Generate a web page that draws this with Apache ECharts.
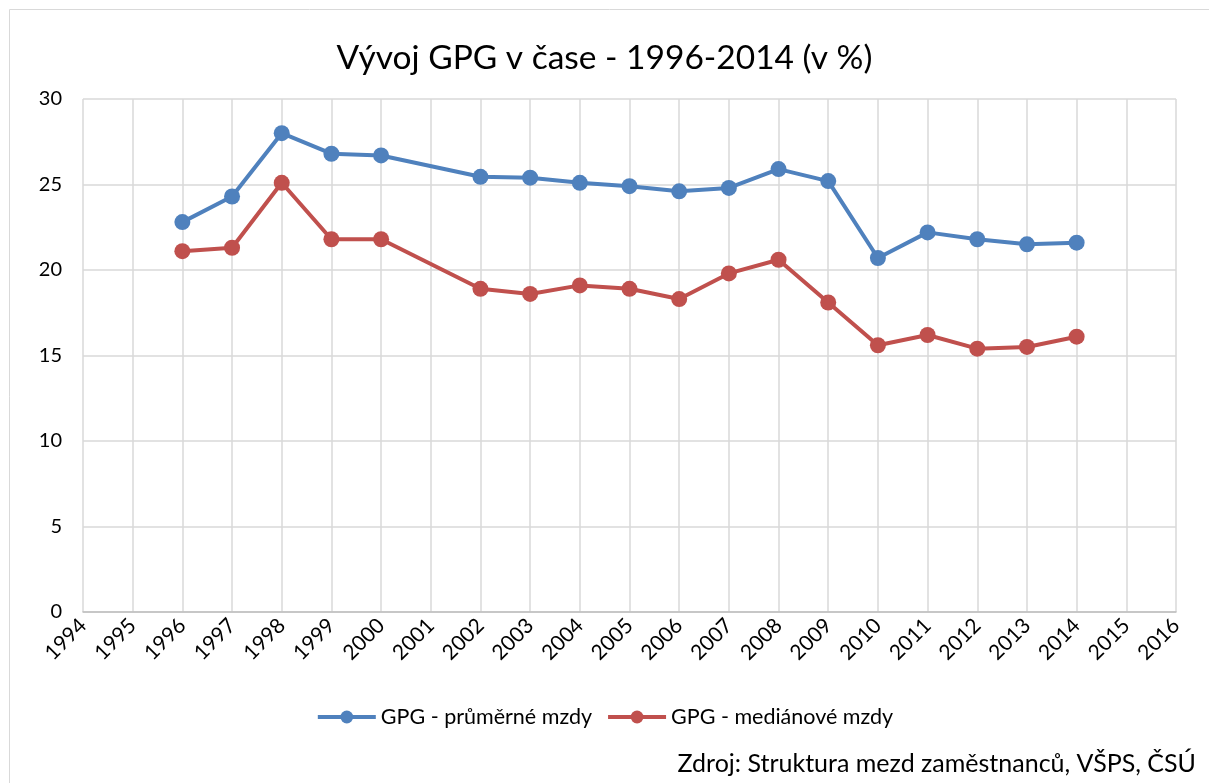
<!DOCTYPE html>
<html>
<head>
<meta charset="utf-8">
<script src="https://cdn.jsdelivr.net/npm/echarts@6/dist/echarts.min.js"></script>
<style>
  html, body { margin: 0; padding: 0; background: #fff; }
  #chart { width: 1209px; height: 783px; }
</style>
</head>
<body>
<div id="chart"></div>
<script>
// roky a hodnoty GPG (v %)
var years = [1996, 1997, 1998, 1999, 2000, 2002, 2003, 2004, 2005, 2006, 2007, 2008, 2009, 2010, 2011, 2012, 2013, 2014];
var prumerne = [22.8, 24.3, 28.0, 26.8, 26.7, 25.45, 25.4, 25.1, 24.9, 24.6, 24.8, 25.9, 25.2, 20.7, 22.2, 21.8, 21.5, 21.6];
var medianove = [21.1, 21.3, 25.1, 21.8, 21.8, 18.9, 18.6, 19.1, 18.9, 18.3, 19.8, 20.6, 18.1, 15.6, 16.2, 15.4, 15.5, 16.1];

var font = 'Lato, "Open Sans", sans-serif';

function pairs(vals) {
  return years.map(function (y, i) { return [y, vals[i]]; });
}

var chart = echarts.init(document.getElementById('chart'));
var option = {
  animation: false,
  textStyle: { fontFamily: font },
  title: {
    text: 'Vývoj GPG v čase - 1996-2014 (v %)',
    left: 'center',
    top: 36,
    textStyle: { fontSize: 33.5, fontWeight: 'normal', color: '#000', fontFamily: font }
  },
  legend: {
    bottom: 50,
    left: 'center',
    itemWidth: 58,
    itemHeight: 16,
    itemGap: 14,
    lineStyle: { width: 4 },
    textStyle: { fontSize: 21.5, color: '#000', fontFamily: font },
    data: ['GPG - průměrné mzdy', 'GPG - mediánové mzdy']
  },
  grid: { left: 83, right: 33, top: 99, bottom: 171, containLabel: false },
  xAxis: {
    type: 'value',
    min: 1994,
    max: 2016,
    interval: 1,
    axisLine: { lineStyle: { color: '#bfbfbf', width: 1.5 } },
    axisTick: { show: false },
    splitLine: { show: true, lineStyle: { color: '#d9d9d9', width: 1.5 } },
    axisLabel: {
      rotate: 45,
      fontSize: 21,
      color: '#000',
      margin: 10,
      fontFamily: font,
      formatter: function (v) { return String(v); }
    }
  },
  yAxis: {
    type: 'value',
    min: 0,
    max: 30,
    interval: 5,
    axisLine: { show: false },
    axisTick: { show: false },
    splitLine: { lineStyle: { color: '#d9d9d9', width: 1.5 } },
    axisLabel: { fontSize: 20, color: '#000', margin: 21, fontFamily: font }
  },
  series: [
    {
      name: 'GPG - průměrné mzdy',
      type: 'line',
      data: pairs(prumerne),
      symbol: 'circle',
      symbolSize: 16,
      lineStyle: { color: '#4f81bd', width: 4 },
      itemStyle: { color: '#4f81bd' }
    },
    {
      name: 'GPG - mediánové mzdy',
      type: 'line',
      data: pairs(medianove),
      symbol: 'circle',
      symbolSize: 16,
      lineStyle: { color: '#c0504d', width: 4 },
      itemStyle: { color: '#c0504d' }
    }
  ],
  graphic: [
    {
      type: 'rect',
      shape: { x: 9.5, y: 9.5, width: 1210, height: 780 },
      style: { fill: 'none', stroke: '#d9d9d9', lineWidth: 1 }
    },
    {
      type: 'text',
      right: 13,
      top: 751,
      style: { text: 'Zdroj: Struktura mezd zaměstnanců, VŠPS, ČSÚ', fontSize: 25, fill: '#000', fontFamily: font }
    }
  ]
};
chart.setOption(option);
</script>
</body>
</html>
